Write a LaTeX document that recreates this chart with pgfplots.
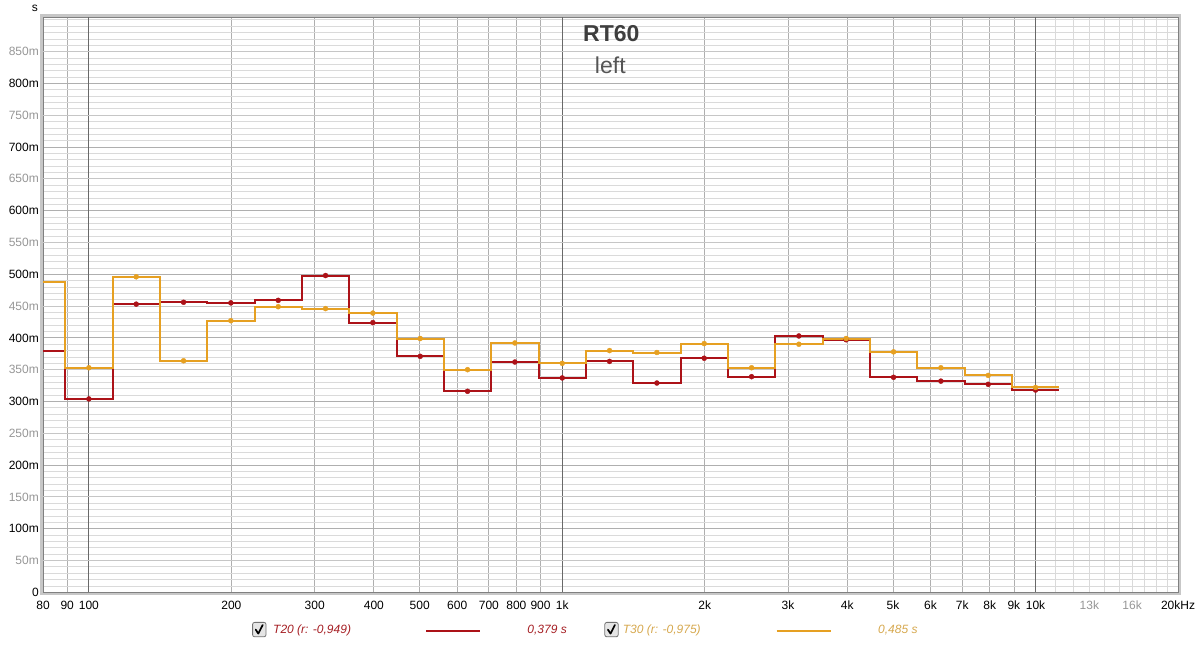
\documentclass[border=0pt]{standalone}
\usepackage{fontspec}
\setmainfont{Liberation Sans}
\usepackage{pgfplots}
\pgfplotsset{compat=1.18}
\usepackage{pgfplotstable}

\definecolor{tred}{RGB}{172,18,24}
\definecolor{torange}{RGB}{230,160,34}
\definecolor{tredtext}{RGB}{165,30,35}
\definecolor{torangetext}{RGB}{214,168,78}
\definecolor{gminor}{RGB}{218,218,218}
\definecolor{gfifty}{RGB}{198,198,198}
\definecolor{gvert}{RGB}{175,175,175}
\definecolor{gdark}{RGB}{105,105,105}
\definecolor{labgray}{RGB}{150,150,150}
\definecolor{titlegray}{RGB}{62,62,62}
\definecolor{subgray}{RGB}{85,85,85}

% step edges (lower band edges, last row = upper edge of the 10k band)
\pgfplotstableread{
edge t20 t30
70.79 0.380 0.488
89.13 0.304 0.353
112.2 0.453 0.496
141.25 0.456 0.364
177.83 0.455 0.427
223.87 0.459 0.449
281.84 0.498 0.446
354.81 0.424 0.439
446.68 0.371 0.399
562.34 0.316 0.350
707.95 0.362 0.392
891.25 0.337 0.360
1122.0 0.363 0.380
1412.5 0.329 0.377
1778.3 0.368 0.391
2238.7 0.339 0.353
2818.4 0.403 0.390
3548.1 0.397 0.399
4466.8 0.338 0.378
5623.4 0.332 0.353
7079.5 0.327 0.341
8912.5 0.318 0.322
11220 0.318 0.322
}\steps

% band centres
\pgfplotstableread{
f t20 t30
79.43 0.380 0.488
100 0.304 0.353
125.89 0.453 0.496
158.49 0.456 0.364
199.53 0.455 0.427
251.19 0.459 0.449
316.23 0.498 0.446
398.11 0.424 0.439
501.19 0.371 0.399
630.96 0.316 0.350
794.33 0.362 0.392
1000 0.337 0.360
1258.9 0.363 0.380
1584.9 0.329 0.377
1995.3 0.368 0.391
2511.9 0.339 0.353
3162.3 0.403 0.390
3981.1 0.397 0.399
5011.9 0.338 0.378
6309.6 0.332 0.353
7943.3 0.327 0.341
10000 0.318 0.322
}\centers

\begin{document}
\begin{tikzpicture}
\path[use as bounding box] (-43pt,-52.7pt) rectangle (1157pt,592.3pt);
% shaded outer frame
\draw[black!22, line width=2.6pt] (-1.6pt,-1.6pt) rectangle (1136.6pt,576.6pt);
\begin{axis}[
  at={(0pt,0pt)}, anchor=south west,
  width=1135pt, height=575pt, scale only axis,
  xmode=log, xmin=80, xmax=20000, ymin=0, ymax=0.904,
  axis line style={draw=black!50, line width=1pt},
  tick style={draw=none}, major tick length=0pt, minor tick length=0pt,
  /pgf/number format/assume math mode=true,
  every tick label/.append style={font=\fontsize{12}{14}\selectfont, text=black},
  xticklabel style={anchor=base, yshift=-17pt, inner sep=0pt},
  yticklabel style={anchor=east, xshift=-4pt, inner sep=0pt},
  xtick={80,90,200,300,400,500,600,700,800,900,2000,3000,4000,5000,6000,7000,8000,9000,20000},
  xticklabels={80,90,200,300,400,500,600,700,800,900,2k,3k,4k,5k,6k,7k,8k,9k,20kHz},
  extra x ticks={100,1000,10000},
  extra x tick labels={100,1k,10k},
  extra x tick style={xmajorgrids=true, major grid style={draw=gdark, line width=0.9pt}},
  minor xtick={11000,12000,13000,14000,15000,16000,17000,18000,19000},
  ytick={0,0.1,0.2,0.3,0.4,0.5,0.6,0.7,0.8},
  yticklabels={0,100m,200m,300m,400m,500m,600m,700m,800m},
  extra y ticks={0.05,0.15,0.25,0.35,0.45,0.55,0.65,0.75,0.85},
  extra y tick labels={50m,150m,250m,350m,450m,550m,650m,750m,850m},
  extra y tick style={ymajorgrids=true, major grid style={draw=gfifty, line width=0.8pt},
     yticklabel style={text=labgray}},
  minor ytick={0.01,0.02,0.03,0.04,0.06,0.07,0.08,0.09,
    0.11,0.12,0.13,0.14,0.16,0.17,0.18,0.19,
    0.21,0.22,0.23,0.24,0.26,0.27,0.28,0.29,
    0.31,0.32,0.33,0.34,0.36,0.37,0.38,0.39,
    0.41,0.42,0.43,0.44,0.46,0.47,0.48,0.49,
    0.51,0.52,0.53,0.54,0.56,0.57,0.58,0.59,
    0.61,0.62,0.63,0.64,0.66,0.67,0.68,0.69,
    0.71,0.72,0.73,0.74,0.76,0.77,0.78,0.79,
    0.81,0.82,0.83,0.84,0.86,0.87,0.88,0.89,0.90},
  xmajorgrids, ymajorgrids, yminorgrids, xminorgrids,
  major grid style={draw=gvert, line width=0.8pt},
  minor grid style={draw=gminor, line width=0.8pt},
  clip=true,
]
\addplot[const plot, draw=tred, line width=2pt] table[x=edge, y=t20] {\steps};
\addplot[const plot, draw=torange, line width=2pt] table[x=edge, y=t30] {\steps};
\addplot[only marks, mark=*, mark size=2.5pt, color=tred] table[x=f, y=t20] {\centers};
\addplot[only marks, mark=*, mark size=2.5pt, color=torange] table[x=f, y=t30] {\centers};
\end{axis}
% 13k / 16k labels in grey
\node[anchor=base, inner sep=0pt, font=\fontsize{12}{14}\selectfont, text=labgray]
  at (1046.4pt, -17pt) {13k};
\node[anchor=base, inner sep=0pt, font=\fontsize{12}{14}\selectfont, text=labgray]
  at (1089.1pt, -17pt) {16k};
% unit
\node[anchor=base, inner sep=0pt, font=\fontsize{12}{14}\selectfont] at (-8pt,580.5pt) {s};
% titles
\node[anchor=base, inner sep=0pt, font=\bfseries\fontsize{23}{27}\selectfont, text=titlegray] at (568.3pt,550.6pt) {RT60};
\node[anchor=base, inner sep=0pt, font=\fontsize{23}{27}\selectfont, text=subgray] at (567.3pt,519pt) {left};
% legend
\foreach \cx in {216.3pt, 568.5pt}{
  \draw[draw=black!55, fill=black!10, rounded corners=2pt, line width=0.8pt]
    ([xshift=-6.7pt, yshift=-7.2pt]\cx,-37.3pt) rectangle ([xshift=6.7pt, yshift=7.2pt]\cx,-37.3pt);
  \draw[black, line width=1.7pt, line cap=round, line join=round]
    ([xshift=-3.6pt, yshift=0pt]\cx,-37.3pt) -- ([xshift=-1pt, yshift=-4pt]\cx,-37.3pt) -- ([xshift=3.4pt, yshift=4.6pt]\cx,-37.3pt);
}
\node[anchor=base west, inner sep=0pt, font=\itshape\fontsize{12}{14}\selectfont, text=tredtext] at (230pt,-41.3pt) {T20 (r: -0,949)};
\draw[tred, line width=2pt] (383pt,-38.5pt) -- (437pt,-38.5pt);
\node[anchor=base east, inner sep=0pt, font=\itshape\fontsize{12}{14}\selectfont, text=tredtext] at (524pt,-41.3pt) {0,379 s};
\node[anchor=base west, inner sep=0pt, font=\itshape\fontsize{12}{14}\selectfont, text=torangetext] at (579.7pt,-41.3pt) {T30 (r: -0,975)};
\draw[torange, line width=2pt] (733.7pt,-38.5pt) -- (787.7pt,-38.5pt);
\node[anchor=base west, inner sep=0pt, font=\itshape\fontsize{12}{14}\selectfont, text=torangetext] at (835pt,-41.3pt) {0,485 s};
\end{tikzpicture}
\end{document}
